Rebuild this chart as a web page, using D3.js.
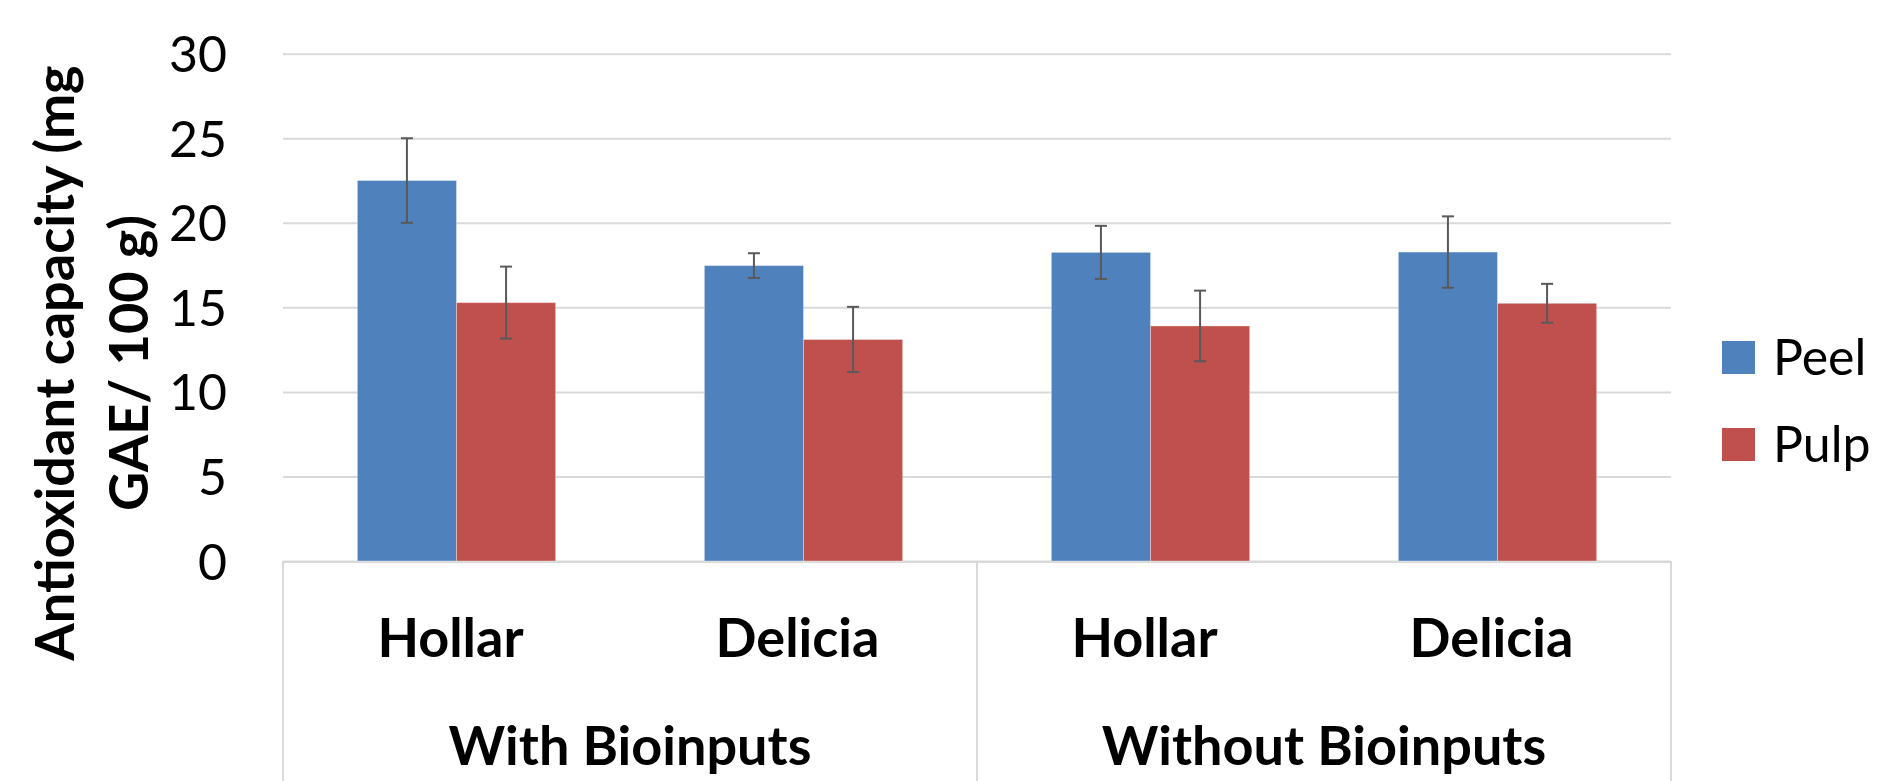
<!DOCTYPE html>
<html>
<head>
<meta charset="utf-8">
<script src="https://cdn.jsdelivr.net/npm/d3@7"></script>
<style>
  html, body { margin: 0; padding: 0; background: #fff; }
  svg { display: block; }
  text { font-family: Lato, "Open Sans", sans-serif; fill: #000; }
</style>
</head>
<body>
<svg id="chart" width="1877" height="781"></svg>
<script>
// ---- data ----
const groups = ["With Bioinputs", "Without Bioinputs"];
const cultivars = ["Hollar", "Delicia", "Hollar", "Delicia"];
const categoryGroup = [0, 0, 1, 1];
const series = ["Peel", "Pulp"];
const peelValues = [22.5, 17.47, 18.25, 18.27];
const pulpValues = [15.28, 13.1, 13.9, 15.24];
const peelErrors = [2.5, 0.73, 1.57, 2.11];
const pulpErrors = [2.13, 1.93, 2.09, 1.15];
const yTicks = [0, 5, 10, 15, 20, 25, 30];
const colors = ["#4F81BD", "#C0504D"];

// ---- layout ----
const W = 1877, H = 781;
const pLeft = 283, pRight = 1671, pTop = 53.7, pBottom = 561;
const boldSize = "54px";
const svg = d3.select("#chart");

const keys = cultivars.map((c, i) => i);
const x0 = d3.scaleBand().domain(keys).range([pLeft, pRight]).paddingInner(0).paddingOuter(0);
const x1 = d3.scaleBand().domain(series).range([0, x0.bandwidth()]).paddingInner(0).paddingOuter(0.75);
const y = d3.scaleLinear().domain([0, 30]).range([pBottom, pTop]);
const color = d3.scaleOrdinal().domain(series).range(colors);

// gridlines + y tick labels
const yAxis = d3.axisLeft(y).tickValues(yTicks).tickSize(-(pRight - pLeft)).tickPadding(0).tickFormat(d3.format("d"));
const gy = svg.append("g").attr("transform", `translate(${pLeft},0)`).call(yAxis);
gy.select(".domain").remove();
gy.selectAll(".tick line").attr("stroke", "#d9d9d9").attr("stroke-width", 2);
gy.selectAll(".tick text")
  .attr("x", 227 - pLeft)
  .attr("dy", null)
  .attr("y", 18)
  .attr("text-anchor", "end")
  .style("font-size", "50px")
  .style("font-family", "Lato, sans-serif")
  .attr("fill", "#000");

// category axis box
const boxG = svg.append("g").attr("stroke", "#d9d9d9").attr("stroke-width", 2).attr("fill", "none");
boxG.append("line").attr("x1", pLeft).attr("x2", pRight).attr("y1", pBottom + 1).attr("y2", pBottom + 1);
const groupEdges = [pLeft, x0(2), pRight];
groupEdges.forEach(gx => {
  boxG.append("line").attr("x1", gx).attr("x2", gx).attr("y1", pBottom).attr("y2", H);
});

// bars
const data = keys.map(i => ({
  i,
  vals: [
    { s: "Peel", v: peelValues[i], e: peelErrors[i] },
    { s: "Pulp", v: pulpValues[i], e: pulpErrors[i] }
  ]
}));

const cat = svg.append("g").selectAll("g").data(data).join("g")
  .attr("transform", d => `translate(${x0(d.i)},0)`);

cat.selectAll("rect").data(d => d.vals).join("rect")
  .attr("x", d => x1(d.s))
  .attr("width", x1.bandwidth())
  .attr("y", d => y(d.v))
  .attr("height", d => y(0) - y(d.v))
  .attr("fill", d => color(d.s))
  .attr("stroke", "rgba(255,255,255,0.35)")
  .attr("stroke-width", 1);

// error bars
const eb = cat.selectAll("g.err").data(d => d.vals).join("g").attr("class", "err")
  .attr("stroke", "#595959").attr("stroke-width", 2);
const cx = d => x1(d.s) + x1.bandwidth() / 2;
eb.append("line").attr("x1", cx).attr("x2", cx).attr("y1", d => y(d.v + d.e)).attr("y2", d => y(d.v - d.e));
eb.append("line").attr("x1", d => cx(d) - 6).attr("x2", d => cx(d) + 6).attr("y1", d => y(d.v + d.e)).attr("y2", d => y(d.v + d.e));
eb.append("line").attr("x1", d => cx(d) - 6).attr("x2", d => cx(d) + 6).attr("y1", d => y(d.v - d.e)).attr("y2", d => y(d.v - d.e));

// category labels
svg.append("g").selectAll("text").data(keys).join("text")
  .attr("x", i => x0(i) + x0.bandwidth() / 2 - 6)
  .attr("y", 657)
  .attr("text-anchor", "middle")
  .style("font-size", boldSize)
  .style("font-weight", "bold")
  .text(i => cultivars[i]);

// group labels
svg.append("g").selectAll("text").data(groups).join("text")
  .attr("x", (g, gi) => {
    const idx = keys.filter(k => categoryGroup[k] === gi);
    return (x0(idx[0]) + x0(idx[idx.length - 1]) + x0.bandwidth()) / 2;
  })
  .attr("y", 765)
  .attr("text-anchor", "middle")
  .style("font-size", boldSize)
  .style("font-weight", "bold")
  .text(g => g);

// y-axis title
const titleLines = ["Antioxidant capacity (mg", "GAE/ 100 g)"];
const tg = svg.append("g").attr("transform", "translate(0,363) rotate(-90)");
tg.selectAll("text").data(titleLines).join("text")
  .attr("x", 0)
  .attr("y", (d, i) => [74, 148][i])
  .attr("text-anchor", "middle")
  .style("font-size", boldSize)
  .style("font-weight", "bold")
  .text(d => d);

// legend
const lg = svg.append("g").selectAll("g").data(series).join("g")
  .attr("transform", (d, i) => `translate(1722,${341 + i * 87})`);
lg.append("rect").attr("width", 33).attr("height", 33).attr("fill", d => color(d));
lg.append("text").attr("x", 51).attr("y", 34).style("font-size", "50px").text(d => d);
</script>
</body>
</html>
